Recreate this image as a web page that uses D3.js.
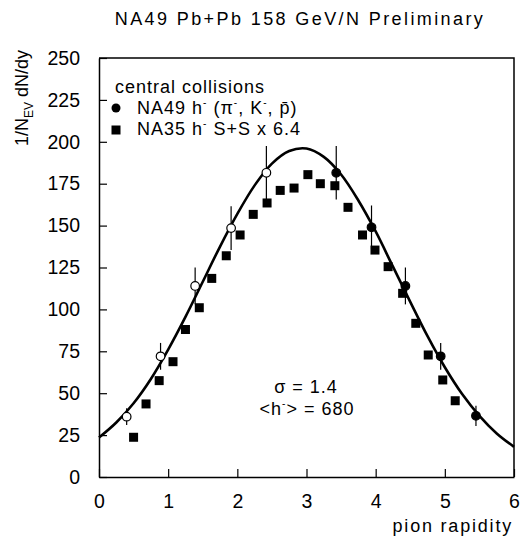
<!DOCTYPE html>
<meta charset="utf-8">
<script src="https://d3js.org/d3.v7.min.js"></script>
<style>
  body { margin: 0; background: #fff; }
  text { font-family: "Liberation Sans", Arial, sans-serif; fill: #000; }
</style>
<div id="chart"></div>
<script>
var width = 520
var height = 542

// axis ticks
var xTicks = [0, 1, 2, 3, 4, 5, 6]
var yTicks = [0, 25, 50, 75, 100, 125, 150, 175, 200, 225, 250]

// NA49 h- points (open = reflected around midrapidity)
var na49Rap  = [0.40, 0.89, 1.39, 1.91, 2.42, 3.43, 3.94, 4.43, 4.94, 5.45]
var na49Val  = [36, 72, 114, 148.5, 181.5, 181.5, 149, 114, 72, 36.5]
var na49Err  = [5, 8, 11, 13, 16, 16, 13, 11, 8, 6]
var na49Open = [true, true, true, true, true, false, false, false, false, false]

// NA35 h- S+S x 6.4
var na35Rap = [0.50, 0.68, 0.87, 1.07, 1.25, 1.45, 1.63, 1.84, 2.04, 2.23, 2.43, 2.62, 2.82,
               3.02, 3.20, 3.41, 3.60, 3.81, 3.99, 4.18, 4.39, 4.58, 4.76, 4.97, 5.15]
var na35Val = [23.7, 43.6, 57.5, 68.8, 88, 101, 118.5, 132, 144.4, 156.7, 163.5, 171, 172.4,
               180.4, 175, 173.8, 160.9, 144.4, 135.4, 125.5, 109.6, 91.7, 72.8, 57.9, 45.5]

// fit curve
var curveRap = [0, 0.25, 0.5, 0.75, 1, 1.25, 1.5, 1.75, 2, 2.25, 2.5, 2.75, 3,
                3.25, 3.5, 3.75, 4, 4.25, 4.5, 4.75, 5, 5.25, 5.5, 5.75, 6]
var curveVal = [23.5, 32.5, 44, 58.5, 76, 95.5, 116.5, 137.5, 157, 174, 187, 194.5, 196,
                191, 180.5, 165, 146.5, 125.5, 104.5, 84, 65.5, 49.5, 36.5, 26, 18]

var svg = d3.select("#chart")
  .append("svg")
    .attr("width", width)
    .attr("height", height)

var x = d3.scaleLinear().domain([0, 6]).range([99, 514])
var y = d3.scaleLinear().domain([0, 250]).range([477, 58])

// title
svg.append("text")
  .attr("x", 300)
  .attr("y", 25)
  .attr("text-anchor", "middle")
  .style("font-size", "18px")
  .style("letter-spacing", "2.4px")
  .text("NA49 Pb+Pb 158 GeV/N Preliminary")

// axes
var xAxis = svg.append("g")
  .attr("transform", "translate(0," + y(0) + ")")
  .call(d3.axisBottom(x).tickValues(xTicks).tickFormat(d3.format("d"))
    .tickSizeInner(-8).tickSizeOuter(0).tickPadding(17))
var yAxis = svg.append("g")
  .attr("transform", "translate(" + x(0) + ",0)")
  .call(d3.axisLeft(y).tickValues(yTicks).tickFormat(d3.format("d"))
    .tickSizeInner(-8).tickSizeOuter(0).tickPadding(19))

svg.selectAll(".domain").style("stroke", "#000").style("stroke-width", 1.5)
svg.selectAll(".tick line").style("stroke", "#000").style("stroke-width", 1.2)
svg.selectAll(".tick text")
  .style("font-size", "19.5px")
  .style("font-family", "'Liberation Sans', Arial, sans-serif")

// top and right frame
svg.append("path")
  .attr("d", "M" + x(0) + "," + y(250) + "H" + x(6) + "V" + y(0))
  .style("fill", "none")
  .style("stroke", "#000")
  .style("stroke-width", 1.5)

// fit curve
var line = d3.line()
  .x(function(d, i) { return x(curveRap[i]) })
  .y(function(d, i) { return y(curveVal[i]) })
  .curve(d3.curveCatmullRom)

svg.append("path")
  .datum(curveVal)
  .attr("d", line)
  .style("fill", "none")
  .style("stroke", "#000")
  .style("stroke-width", 2.6)

// NA35 squares
svg.append("g")
  .selectAll("rect")
  .data(na35Val)
  .enter().append("rect")
    .attr("x", function(d, i) { return x(na35Rap[i]) - 4.5 })
    .attr("y", function(d) { return y(d) - 4.5 })
    .attr("width", 9)
    .attr("height", 9)
    .style("fill", "#000")

// NA49 error bars and circles
var na49 = svg.append("g")
na49.selectAll("line")
  .data(na49Val)
  .enter().append("line")
    .attr("x1", function(d, i) { return x(na49Rap[i]) })
    .attr("x2", function(d, i) { return x(na49Rap[i]) })
    .attr("y1", function(d, i) { return y(d + na49Err[i]) })
    .attr("y2", function(d, i) { return y(d - na49Err[i]) })
    .style("stroke", "#000")
    .style("stroke-width", 1.2)

na49.selectAll("circle")
  .data(na49Val)
  .enter().append("circle")
    .attr("cx", function(d, i) { return x(na49Rap[i]) })
    .attr("cy", function(d) { return y(d) })
    .attr("r", 4.3)
    .style("fill", function(d, i) { return na49Open[i] ? "#fff" : "#000" })
    .style("stroke", "#000")
    .style("stroke-width", 1.2)

// legend
var legend = svg.append("g").style("font-size", "18px").style("letter-spacing", "1px")
legend.append("text").attr("x", 115).attr("y", 93).text("central collisions")

legend.append("circle").attr("cx", 116).attr("cy", 108).attr("r", 4.5).style("fill", "#000")
var t1 = legend.append("text").attr("x", 137).attr("y", 114)
t1.append("tspan").text("NA49 h")
t1.append("tspan").attr("dy", -8).style("font-size", "10px").text("-")
t1.append("tspan").attr("dy", 8).text(" (\u03c0")
t1.append("tspan").attr("dy", -8).style("font-size", "10px").text("-")
t1.append("tspan").attr("dy", 8).text(", K")
t1.append("tspan").attr("dy", -8).style("font-size", "10px").text("-")
t1.append("tspan").attr("dy", 8).text(", p\u0304)")

legend.append("rect").attr("x", 111.5).attr("y", 125.5).attr("width", 9).attr("height", 9).style("fill", "#000")
var t2 = legend.append("text").attr("x", 137).attr("y", 135)
t2.append("tspan").text("NA35 h")
t2.append("tspan").attr("dy", -8).style("font-size", "10px").text("-")
t2.append("tspan").attr("dy", 8).text(" S+S x 6.4")

// fit annotation
var note = svg.append("g").style("font-size", "18px").style("letter-spacing", "1px")
note.append("text").attr("x", 306).attr("y", 393).attr("text-anchor", "middle").text("\u03c3 = 1.4")
var t3 = note.append("text").attr("x", 307).attr("y", 415).attr("text-anchor", "middle")
t3.append("tspan").text("<h")
t3.append("tspan").attr("dy", -8).style("font-size", "10px").text("-")
t3.append("tspan").attr("dy", 8).text("> = 680")

// axis titles
svg.append("text")
  .attr("x", 513)
  .attr("y", 532)
  .attr("text-anchor", "end")
  .style("font-size", "18px")
  .style("letter-spacing", "1.8px")
  .text("pion rapidity")

var yl = svg.append("text")
  .attr("transform", "translate(28,98) rotate(-90)")
  .attr("text-anchor", "middle")
  .style("font-size", "18px")
yl.append("tspan").text("1/N")
yl.append("tspan").attr("dy", 5).style("font-size", "12px").text("EV")
yl.append("tspan").attr("dy", -5).text(" dN/dy")
</script>
